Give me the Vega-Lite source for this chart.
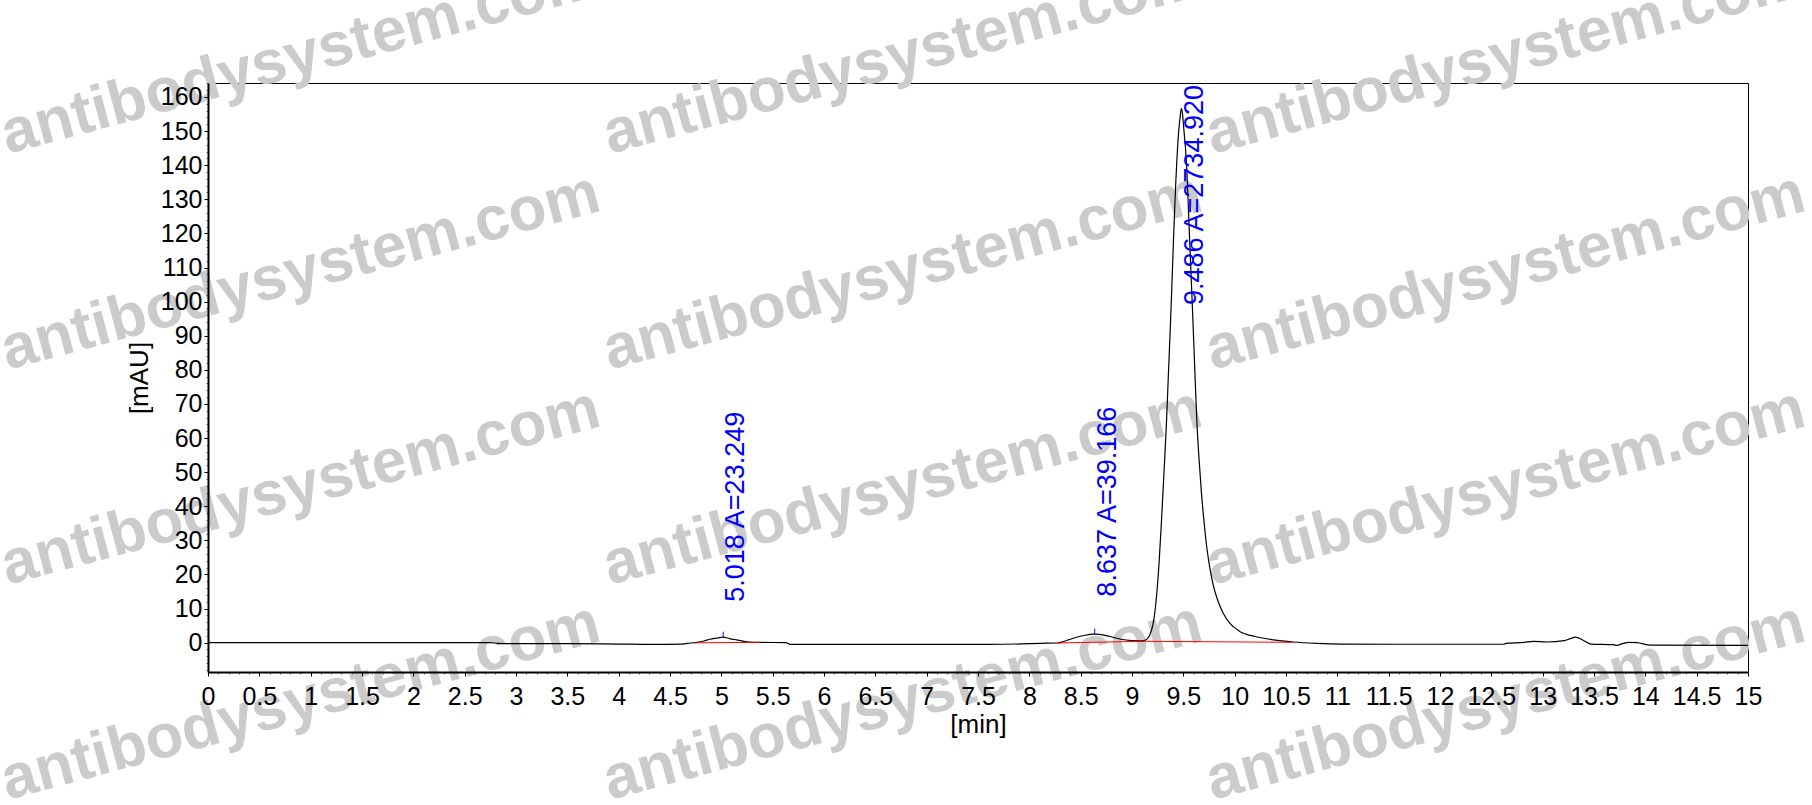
{
  "$schema": "https://vega.github.io/schema/vega-lite/v6.json",
  "width": 1540,
  "height": 589,
  "autosize": {"type": "none"},
  "padding": {"left": 208, "top": 83, "right": 64, "bottom": 133},
  "background": "white",
  "config": {
    "view": {"stroke": "black", "strokeWidth": 1},
    "font": "Liberation Sans"
  },
  "datasets": {
    "trace": [
      {"t": 0, "v": 0}, {"t": 1, "v": 0}, {"t": 2, "v": 0}, {"t": 2.75, "v": 0},
      {"t": 2.82, "v": -0.2}, {"t": 3.0, "v": -0.3}, {"t": 3.5, "v": -0.3}, {"t": 4.0, "v": -0.4},
      {"t": 4.3, "v": -0.5}, {"t": 4.62, "v": -0.4}, {"t": 4.7, "v": -0.1}, {"t": 4.76, "v": 0.1},
      {"t": 4.83, "v": 0.5}, {"t": 4.89, "v": 1.0}, {"t": 4.95, "v": 1.3}, {"t": 5.02, "v": 1.6},
      {"t": 5.08, "v": 1.2}, {"t": 5.15, "v": 0.8}, {"t": 5.22, "v": 0.4}, {"t": 5.28, "v": 0.2},
      {"t": 5.38, "v": 0.1}, {"t": 5.63, "v": 0.0}, {"t": 5.67, "v": -0.5}, {"t": 6.25, "v": -0.5},
      {"t": 7.0, "v": -0.5}, {"t": 7.6, "v": -0.5}, {"t": 8.0, "v": -0.3}, {"t": 8.1, "v": -0.2},
      {"t": 8.27, "v": -0.1}, {"t": 8.35, "v": 0.5}, {"t": 8.43, "v": 1.3}, {"t": 8.53, "v": 2.1},
      {"t": 8.64, "v": 2.5}, {"t": 8.76, "v": 2.0}, {"t": 8.89, "v": 1.0}, {"t": 9.0, "v": 0.6},
      {"t": 9.1, "v": 0.5}, {"t": 9.14, "v": 0.9}, {"t": 9.17, "v": 2.0}, {"t": 9.205, "v": 5.5},
      {"t": 9.225, "v": 9.5}, {"t": 9.243, "v": 15}, {"t": 9.265, "v": 24}, {"t": 9.286, "v": 35},
      {"t": 9.31, "v": 49}, {"t": 9.335, "v": 64}, {"t": 9.355, "v": 79}, {"t": 9.374, "v": 93},
      {"t": 9.39, "v": 106}, {"t": 9.409, "v": 122}, {"t": 9.425, "v": 134}, {"t": 9.438, "v": 142},
      {"t": 9.455, "v": 150}, {"t": 9.47, "v": 154.5}, {"t": 9.481, "v": 156.7}, {"t": 9.492, "v": 155},
      {"t": 9.505, "v": 150.5}, {"t": 9.53, "v": 141}, {"t": 9.555, "v": 123}, {"t": 9.575, "v": 108},
      {"t": 9.594, "v": 94}, {"t": 9.613, "v": 79}, {"t": 9.633, "v": 64}, {"t": 9.655, "v": 53},
      {"t": 9.676, "v": 44}, {"t": 9.7, "v": 36}, {"t": 9.724, "v": 29}, {"t": 9.755, "v": 22.5},
      {"t": 9.79, "v": 17}, {"t": 9.84, "v": 12}, {"t": 9.886, "v": 8.8}, {"t": 9.95, "v": 5.8},
      {"t": 10.05, "v": 3.3}, {"t": 10.2, "v": 1.8}, {"t": 10.38, "v": 0.8}, {"t": 10.57, "v": 0.2},
      {"t": 10.8, "v": -0.2}, {"t": 11.03, "v": -0.4},
      {"t": 11.6, "v": -0.47}, {"t": 12.62, "v": -0.47}, {"t": 12.64, "v": -0.2}, {"t": 12.82, "v": 0.1},
      {"t": 12.91, "v": 0.4}, {"t": 13.04, "v": 0.2}, {"t": 13.21, "v": 0.6}, {"t": 13.27, "v": 1.2},
      {"t": 13.32, "v": 1.6}, {"t": 13.39, "v": 0.8}, {"t": 13.47, "v": -0.4}, {"t": 13.69, "v": -0.6},
      {"t": 13.72, "v": -0.8}, {"t": 13.78, "v": -0.3}, {"t": 13.84, "v": 0.1}, {"t": 13.92, "v": 0.0},
      {"t": 14.05, "v": -0.7}, {"t": 15, "v": -0.8}
    ],
    "baseline": [
      {"seg": "a", "t": 4.74, "v": -0.05}, {"seg": "a", "t": 5.37, "v": 0.1},
      {"seg": "b", "t": 8.27, "v": -0.1}, {"seg": "b", "t": 9.12, "v": 0.4},
      {"seg": "c", "t": 9.12, "v": 0.4}, {"seg": "c", "t": 10.57, "v": 0.1}
    ],
    "apex": [
      {"t": 5.018, "v": 1.7, "v2": 3.2},
      {"t": 8.637, "v": 2.6, "v2": 4.1}
    ],
    "labels": [
      {"t": 5.018, "v": 12.0, "label": "5.018 A=23.249"},
      {"t": 8.637, "v": 13.5, "label": "8.637 A=39.166"},
      {"t": 9.486, "v": 99.0, "label": "9.486 A=2734.920"}
    ],
    "watermark": [
      {"t": -1.953, "v": 143.3, "text": "antibodysystem.com"},
      {"t": 3.912, "v": 143.3, "text": "antibodysystem.com"},
      {"t": 9.785, "v": 143.3, "text": "antibodysystem.com"},
      {"t": -1.953, "v": 80.0, "text": "antibodysystem.com"},
      {"t": 3.912, "v": 80.0, "text": "antibodysystem.com"},
      {"t": 9.785, "v": 80.0, "text": "antibodysystem.com"},
      {"t": -1.953, "v": 16.9, "text": "antibodysystem.com"},
      {"t": 3.912, "v": 16.9, "text": "antibodysystem.com"},
      {"t": 9.785, "v": 16.9, "text": "antibodysystem.com"},
      {"t": -1.953, "v": -46.1, "text": "antibodysystem.com"},
      {"t": 3.912, "v": -46.1, "text": "antibodysystem.com"},
      {"t": 9.785, "v": -46.1, "text": "antibodysystem.com"}
    ]
  },
  "encoding": {
    "x": {
      "field": "t",
      "type": "quantitative",
      "scale": {"domain": [0, 15], "nice": false, "zero": false},
      "axis": {
        "values": [0,0.1,0.2,0.3,0.4,0.5,0.6,0.7,0.8,0.9,1,1.1,1.2,1.3,1.4,1.5,1.6,1.7,1.8,1.9,2,2.1,2.2,2.3,2.4,2.5,2.6,2.7,2.8,2.9,3,3.1,3.2,3.3,3.4,3.5,3.6,3.7,3.8,3.9,4,4.1,4.2,4.3,4.4,4.5,4.6,4.7,4.8,4.9,5,5.1,5.2,5.3,5.4,5.5,5.6,5.7,5.8,5.9,6,6.1,6.2,6.3,6.4,6.5,6.6,6.7,6.8,6.9,7,7.1,7.2,7.3,7.4,7.5,7.6,7.7,7.8,7.9,8,8.1,8.2,8.3,8.4,8.5,8.6,8.7,8.8,8.9,9,9.1,9.2,9.3,9.4,9.5,9.6,9.7,9.8,9.9,10,10.1,10.2,10.3,10.4,10.5,10.6,10.7,10.8,10.9,11,11.1,11.2,11.3,11.4,11.5,11.6,11.7,11.8,11.9,12,12.1,12.2,12.3,12.4,12.5,12.6,12.7,12.8,12.9,13,13.1,13.2,13.3,13.4,13.5,13.6,13.7,13.8,13.9,14,14.1,14.2,14.3,14.4,14.5,14.6,14.7,14.8,14.9,15],
        "labelExpr": "abs(datum.value*2-round(datum.value*2))<0.01 ? format(datum.value, '~g') : ''",
        "tickSize": {"condition": {"test": "abs(datum.value*2-round(datum.value*2))<0.01", "value": 4}, "value": 2},
        "tickColor": {"condition": {"test": "abs(datum.value*2-round(datum.value*2))<0.01", "value": "black"}, "value": "#777777"},
        "labelFontSize": 25,
        "labelColor": "black",
        "labelPadding": 8,
        "labelOverlap": false,
        "labelFlush": false,
        "domainColor": "black",
        "domainWidth": 2,
        "grid": false,
        "title": "[min]",
        "titleFontSize": 26,
        "titleFontWeight": "normal",
        "titleColor": "black",
        "titlePadding": 2,
        "zindex": 1
      }
    },
    "y": {
      "field": "v",
      "type": "quantitative",
      "scale": {"domain": [-8.6, 164.1], "nice": false, "zero": false},
      "axis": {
        "values": [-8,-6,-4,-2,0,2,4,6,8,10,12,14,16,18,20,22,24,26,28,30,32,34,36,38,40,42,44,46,48,50,52,54,56,58,60,62,64,66,68,70,72,74,76,78,80,82,84,86,88,90,92,94,96,98,100,102,104,106,108,110,112,114,116,118,120,122,124,126,128,130,132,134,136,138,140,142,144,146,148,150,152,154,156,158,160,162,164],
        "labelExpr": "datum.value % 10 === 0 ? format(datum.value, 'd') : ''",
        "tickSize": {"condition": {"test": "datum.value % 10 === 0", "value": 4}, "value": 2},
        "tickColor": {"condition": {"test": "datum.value % 10 === 0", "value": "black"}, "value": "#777777"},
        "labelFontSize": 25,
        "labelColor": "black",
        "labelPadding": 2,
        "labelOverlap": false,
        "labelFlush": false,
        "domainColor": "black",
        "domainWidth": 2,
        "grid": false,
        "title": "[mAU]",
        "titleFontSize": 26,
        "titleFontWeight": "normal",
        "titleColor": "black",
        "titlePadding": 8,
        "zindex": 1
      }
    }
  },
  "layer": [
    {
      "data": {"name": "watermark"},
      "mark": {"type": "text", "align": "left", "baseline": "alphabetic", "angle": 345, "fontSize": 62, "fontWeight": "bold", "color": "#cbcbcb", "clip": false},
      "encoding": {"text": {"field": "text", "type": "nominal"}}
    },
    {
      "data": {"name": "trace"},
      "mark": {"type": "line", "color": "black", "strokeWidth": 1.2, "interpolate": "monotone"},
      "encoding": {"order": {"field": "t", "type": "quantitative"}}
    },
    {
      "data": {"name": "baseline"},
      "mark": {"type": "line", "color": "red", "strokeWidth": 1},
      "encoding": {"detail": {"field": "seg", "type": "nominal"}}
    },
    {
      "data": {"name": "apex"},
      "mark": {"type": "rule", "color": "blue", "strokeWidth": 1},
      "encoding": {"y2": {"field": "v2"}}
    },
    {
      "data": {"name": "labels"},
      "mark": {"type": "text", "align": "left", "baseline": "alphabetic", "angle": 270, "dy": 21, "fontSize": 27, "color": "#0000ff"},
      "encoding": {"text": {"field": "label", "type": "nominal"}}
    }
  ]
}
